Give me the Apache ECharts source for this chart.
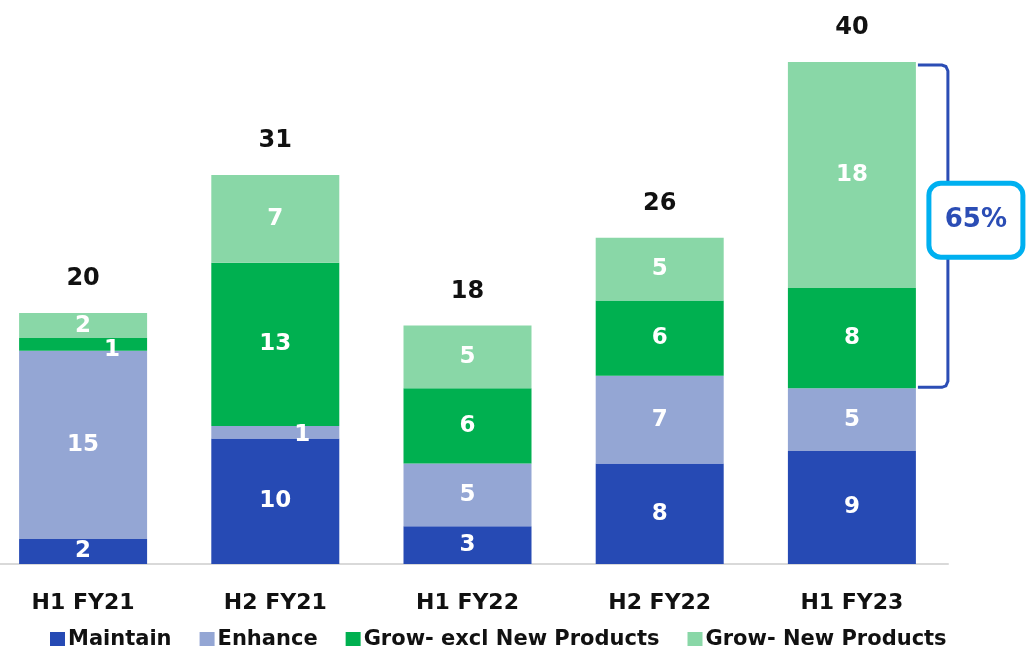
<!DOCTYPE html>
<html>
<head>
<meta charset="utf-8">
<script src="https://cdn.jsdelivr.net/npm/echarts@6/dist/echarts.min.js"></script>
<style>
  html, body { margin: 0; padding: 0; background: #fff; }
  #chart { width: 1028px; height: 646px; }
</style>
</head>
<body>
<div id="chart"></div>
<script>
var categories = ['H1 FY21', 'H2 FY21', 'H1 FY22', 'H2 FY22', 'H1 FY23'];
var maintain = [2, 10, 3, 8, 9];
var enhance = [15, 1, 5, 7, 5];
var growExcl = [1, 13, 6, 6, 8];
var growNew = [2, 7, 5, 5, 18];
var totals = [20, 31, 18, 26, 40];
var shareLabel = '65%';

var FONT = '"DejaVu Sans", Inter, sans-serif';
var chart = echarts.init(document.getElementById('chart'));

// per-bar label nudges for the thin segments
function withOffsets(vals, offsets) {
    return vals.map(function (v, i) {
        var item = { value: v };
        if (offsets[i]) {
            item.label = { offset: offsets[i] };
        }
        return item;
    });
}

var labelStyle = {
    show: true,
    position: 'inside',
    color: '#fff',
    fontSize: 23,
    fontWeight: 'bold',
    fontFamily: FONT
};

var option = {
    animation: false,
    grid: { left: -13, right: 80, top: 62, bottom: 82, outerBoundsMode: 'none', containLabel: false },
    legend: {
        data: ['Maintain', 'Enhance', 'Grow- excl New Products', 'Grow- New Products'],
        top: 624,
        left: 45,
        itemWidth: 15,
        itemHeight: 15,
        itemGap: 28,
        icon: 'rect',
        textStyle: { fontSize: 21, fontWeight: 'bold', color: '#111', fontFamily: FONT, padding: [0, 0, 0, -2] }
    },
    xAxis: {
        type: 'category',
        data: categories,
        axisLine: { lineStyle: { color: '#d9d9d9', width: 2 } },
        axisTick: { show: false },
        axisLabel: { fontSize: 22, fontWeight: 'bold', color: '#111', fontFamily: FONT, margin: 28 }
    },
    yAxis: {
        type: 'value',
        min: 0,
        max: 40,
        show: false,
        splitLine: { show: false }
    },
    series: [
        {
            name: 'Maintain', type: 'bar', stack: 't', barWidth: 128,
            itemStyle: { color: '#264AB4' },
            label: labelStyle,
            data: maintain
        },
        {
            name: 'Enhance', type: 'bar', stack: 't',
            itemStyle: { color: '#94A6D4' },
            label: labelStyle,
            data: withOffsets(enhance, { 1: [27, 3] })
        },
        {
            name: 'Grow- excl New Products', type: 'bar', stack: 't',
            itemStyle: { color: '#00B050' },
            label: labelStyle,
            data: withOffsets(growExcl, { 0: [29, 6] })
        },
        {
            name: 'Grow- New Products', type: 'bar', stack: 't',
            itemStyle: { color: '#89D7A7' },
            label: labelStyle,
            data: growNew
        },
        {
            name: 'total', type: 'bar', stack: 't',
            data: totals.map(function () { return 0; }),
            label: {
                show: true,
                position: 'top',
                distance: 22,
                color: '#111',
                fontSize: 24,
                fontWeight: 'bold',
                fontFamily: FONT,
                formatter: function (p) { return totals[p.dataIndex]; }
            }
        }
    ]
};
chart.setOption(option);

// bracket on the last bar, covering the two Grow segments
var last = categories.length - 1;
var pTop = chart.convertToPixel({ gridIndex: 0 }, [last, totals[last]]);
var pBot = chart.convertToPixel({ gridIndex: 0 }, [last, maintain[last] + enhance[last]]);
var xL = pTop[0] + 66, xR = pTop[0] + 96;
var yT = pTop[1] + 3, yB = pBot[1] - 1;
var yMid = (yT + yB) / 2 - 6;

chart.setOption({
    graphic: [
        {
            type: 'polyline',
            shape: {
                points: [[xL, yT], [xR - 6, yT], [xR - 2, yT + 1.5], [xR, yT + 6],
                         [xR, yB - 6], [xR - 2, yB - 1.5], [xR - 6, yB], [xL, yB]]
            },
            style: { stroke: '#2B4DB5', lineWidth: 3, fill: null }
        },
        {
            type: 'rect',
            shape: { x: xR - 19, y: yMid - 37, width: 94, height: 74, r: 12 },
            style: { fill: '#fff', stroke: '#00B0F0', lineWidth: 5 }
        },
        {
            type: 'text',
            x: xR + 28, y: yMid,
            style: {
                text: shareLabel,
                fill: '#2B4DB5',
                fontSize: 26,
                fontWeight: 'bold',
                fontFamily: FONT,
                align: 'center',
                verticalAlign: 'middle'
            }
        }
    ]
});
</script>
</body>
</html>
